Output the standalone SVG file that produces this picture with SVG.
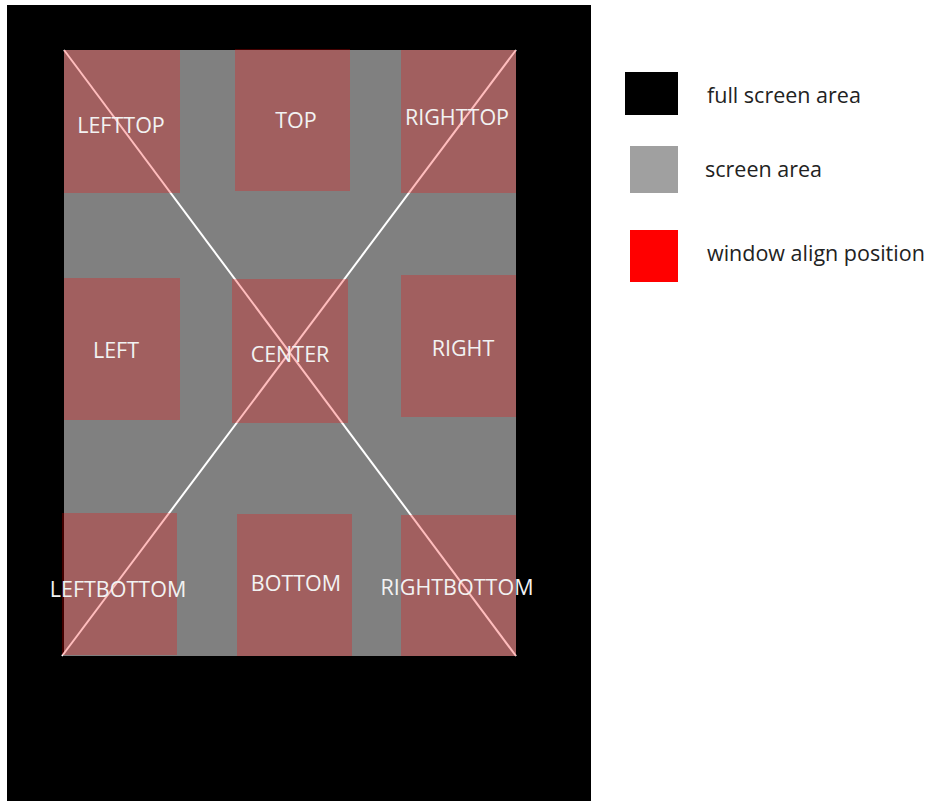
<svg xmlns="http://www.w3.org/2000/svg" width="930" height="801" viewBox="0 0 930 801">
<style>
.pos{fill:#ff0000;fill-opacity:0.26}
.lbl{font-family:"Open Sans","Liberation Sans",sans-serif;font-size:21.5px;fill:#f2f2f2;text-anchor:middle}
.leg{font-family:"Open Sans","Liberation Sans",sans-serif;font-size:21.5px;fill:#222}
.diag{stroke:#ffffff;stroke-width:2;fill:none}
</style>
<rect x="0" y="0" width="930" height="801" fill="#ffffff"/>
<g id="full-screen"><rect x="7" y="5" width="584" height="796" fill="#000000"/></g>
<g id="screen"><rect x="64" y="50" width="452" height="606" fill="#808080"/></g>
<g id="connectors">
<line class="diag" x1="64" y1="50" x2="516" y2="656"/>
<line class="diag" x1="516" y1="50" x2="62" y2="656"/>
</g>
<g id="lefttop"><rect class="pos" x="64" y="50" width="116" height="143"/><text class="lbl" x="121" y="133">LEFTTOP</text></g>
<g id="top"><rect class="pos" x="235" y="49" width="115" height="142"/><text class="lbl" x="296" y="128">TOP</text></g>
<g id="righttop"><rect class="pos" x="401" y="50" width="115" height="143"/><text class="lbl" x="457" y="125">RIGHTTOP</text></g>
<g id="left"><rect class="pos" x="64" y="278" width="116" height="142"/><text class="lbl" x="116" y="358">LEFT</text></g>
<g id="center"><rect class="pos" x="232" y="279" width="116" height="144"/><text class="lbl" x="290" y="362">CENTER</text></g>
<g id="right"><rect class="pos" x="401" y="275" width="115" height="142"/><text class="lbl" x="463" y="356">RIGHT</text></g>
<g id="leftbottom"><rect class="pos" x="62" y="513" width="115" height="142"/><text class="lbl" x="118" y="597">LEFTBOTTOM</text></g>
<g id="bottom"><rect class="pos" x="237" y="514" width="115" height="142"/><text class="lbl" x="296" y="591">BOTTOM</text></g>
<g id="rightbottom"><rect class="pos" x="401" y="515" width="115" height="141"/><text class="lbl" x="457" y="595">RIGHTBOTTOM</text></g>
<g id="legend-full"><rect x="625" y="72" width="53" height="43" fill="#000000"/><text class="leg" x="707" y="103">full screen area</text></g>
<g id="legend-screen"><rect x="630" y="146" width="48" height="47" fill="#a0a0a0"/><text class="leg" x="705" y="177">screen area</text></g>
<g id="legend-window"><rect x="630" y="230" width="48" height="52" fill="#ff0000"/><text class="leg" x="707" y="261">window align position</text></g>
</svg>
